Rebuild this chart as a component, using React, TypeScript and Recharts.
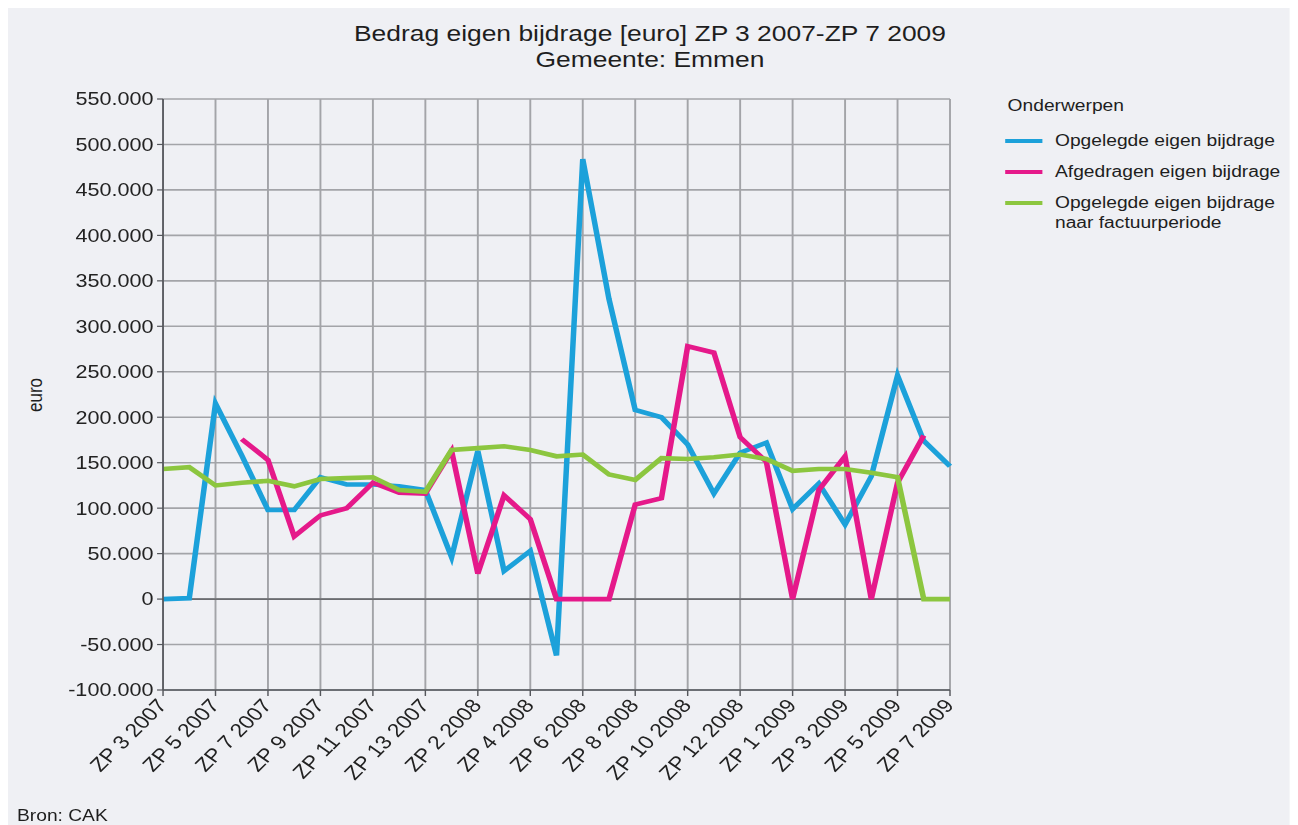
import { LineChart, Line, XAxis, YAxis, CartesianGrid, ReferenceLine } from "recharts";

// tijdvakken (zorgperiodes)
const periods = [
  "ZP 3 2007", "ZP 4 2007", "ZP 5 2007", "ZP 6 2007", "ZP 7 2007", "ZP 8 2007",
  "ZP 9 2007", "ZP 10 2007", "ZP 11 2007", "ZP 12 2007", "ZP 13 2007",
  "ZP 1 2008", "ZP 2 2008", "ZP 3 2008", "ZP 4 2008", "ZP 5 2008", "ZP 6 2008",
  "ZP 7 2008", "ZP 8 2008", "ZP 9 2008", "ZP 10 2008", "ZP 11 2008", "ZP 12 2008",
  "ZP 13 2008", "ZP 1 2009", "ZP 2 2009", "ZP 3 2009", "ZP 4 2009", "ZP 5 2009",
  "ZP 6 2009", "ZP 7 2009",
];

const opgelegd = [
  0, 1000, 215000, 158000, 98000, 98000, 134000, 126000, 126000, 124000, 120000,
  46000, 163000, 31000, 53000, -62000, 484000, 330000, 208000, 200000, 170000,
  116000, 161000, 172000, 99000, 127000, 82000, 135000, 246000, 174000, 146000,
];

const afgedragen = [
  null, null, null, 176000, 153000, 69000, 92000, 100000, 128000, 117000, 116000,
  163000, 28000, 114000, 88000, 0, 0, 0, 104000, 111000, 278000,
  271000, 178000, 151000, 0, 120000, 157000, 0, 128000, 180000, null,
];

const naarFactuurperiode = [
  143000, 145000, 125000, 128000, 130000, 124000, 132000, 133000, 134000, 120000, 118000,
  164000, 166000, 168000, 164000, 157000, 159000, 137000, 131000, 155000, 154000,
  156000, 159000, 154000, 141000, 143000, 143000, 139000, 134000, 0, 0,
];

const yTicks = [
  -100000, -50000, 0, 50000, 100000, 150000, 200000, 250000, 300000, 350000, 400000, 450000, 500000, 550000,
];

const SERIES = [
  { key: "opgelegd", name: ["Opgelegde eigen bijdrage"], color: "#1ca1da" },
  { key: "afgedragen", name: ["Afgedragen eigen bijdrage"], color: "#e5198a" },
  { key: "naarFactuurperiode", name: ["Opgelegde eigen bijdrage", "naar factuurperiode"], color: "#8cc63f" },
];

const data = periods.map((period, i) => ({
  period,
  opgelegd: opgelegd[i],
  afgedragen: afgedragen[i],
  naarFactuurperiode: naarFactuurperiode[i],
}));

const FONT = '"Liberation Sans", Arial, Helvetica, sans-serif';
const GRID = "#a3a4a8";
const AXIS = "#55575c";

// 1.234.000 style
const formatEuro = (v: number) => {
  const s = Math.abs(v).toString().replace(/\B(?=(\d{3})+(?!\d))/g, ".");
  return v < 0 ? "-" + s : s;
};

// eslint-disable-next-line @typescript-eslint/no-explicit-any
function PeriodTick({ x, y, payload }: any) {
  return (
    <g transform={`translate(${x + 4},${y + 8})`}>
      <text x={0} y={0} textAnchor="end" transform="rotate(-50)" fill="#222" fontSize={19} fontFamily={FONT}>
        {payload.value}
      </text>
    </g>
  );
}

export default function App() {
  return (
    <div
      style={{
        position: "relative",
        width: 1068,
        height: 817,
        background: "#eff0f4",
        transform: "scaleX(1.2)",
        transformOrigin: "0 0",
        fontFamily: FONT,
        color: "#1e1e1e",
      }}
    >
      {/* Title */}
      <div
        style={{
          position: "absolute",
          left: 0,
          width: 1070,
          top: 12.5,
          textAlign: "center",
          fontSize: 22,
          lineHeight: "26px",
        }}
      >
        <div>Bedrag eigen bijdrage [euro] ZP 3 2007-ZP 7 2009</div>
        <div>Gemeente: Emmen</div>
      </div>

      {/* Y label */}
      <div
        style={{
          position: "absolute",
          left: 22.5,
          top: 387,
          fontSize: 17,
          lineHeight: "20px",
          transform: "translate(-50%, -50%) rotate(-90deg)",
        }}
      >
        euro
      </div>

      {/* Legend */}
      <div style={{ position: "absolute", left: 833, top: 88, fontSize: 16, lineHeight: "20px" }}>
        Onderwerpen
      </div>
      {SERIES.map((s, i) => (
        <div
          key={s.key}
          style={{ position: "absolute", left: 872.5, top: 123.2 + i * 30.8, fontSize: 16, lineHeight: "20px" }}
        >
          <span
            style={{
              position: "absolute",
              left: -41.5,
              top: 8,
              width: 31,
              height: 4,
              background: s.color,
            }}
          />
          {s.name.map((line) => (
            <div key={line}>{line}</div>
          ))}
        </div>
      ))}

      {/* Source */}
      <div style={{ position: "absolute", left: 7.5, top: 798, fontSize: 16, lineHeight: "20px" }}>Bron: CAK</div>

      <LineChart width={1068} height={817} data={data} margin={{ top: 91, right: 283, left: 29.2, bottom: 35 }}>
        <CartesianGrid stroke={GRID} strokeWidth={1.6} />
        <XAxis
          dataKey="period"
          interval={1}
          height={100}
          axisLine={{ stroke: AXIS, strokeWidth: 1.6 }}
          tickLine={{ stroke: AXIS, strokeWidth: 1.2 }}
          tickSize={6}
          tick={<PeriodTick />}
        />
        <YAxis
          domain={[-100000, 550000]}
          ticks={yTicks}
          interval={0}
          width={100}
          axisLine={{ stroke: AXIS, strokeWidth: 1.4 }}
          tickLine={{ stroke: AXIS, strokeWidth: 1.2 }}
          tickSize={5}
          tickMargin={3}
          tickFormatter={formatEuro}
          tick={{ fill: "#222", fontSize: 18, fontFamily: FONT }}
        />
        <ReferenceLine y={0} stroke="#6b6c70" strokeWidth={1.8} />
        {SERIES.map((s) => (
          <Line
            key={s.key}
            type="linear"
            dataKey={s.key}
            stroke={s.color}
            strokeWidth={4.6}
            dot={false}
            activeDot={false}
            isAnimationActive={false}
          />
        ))}
      </LineChart>
    </div>
  );
}
